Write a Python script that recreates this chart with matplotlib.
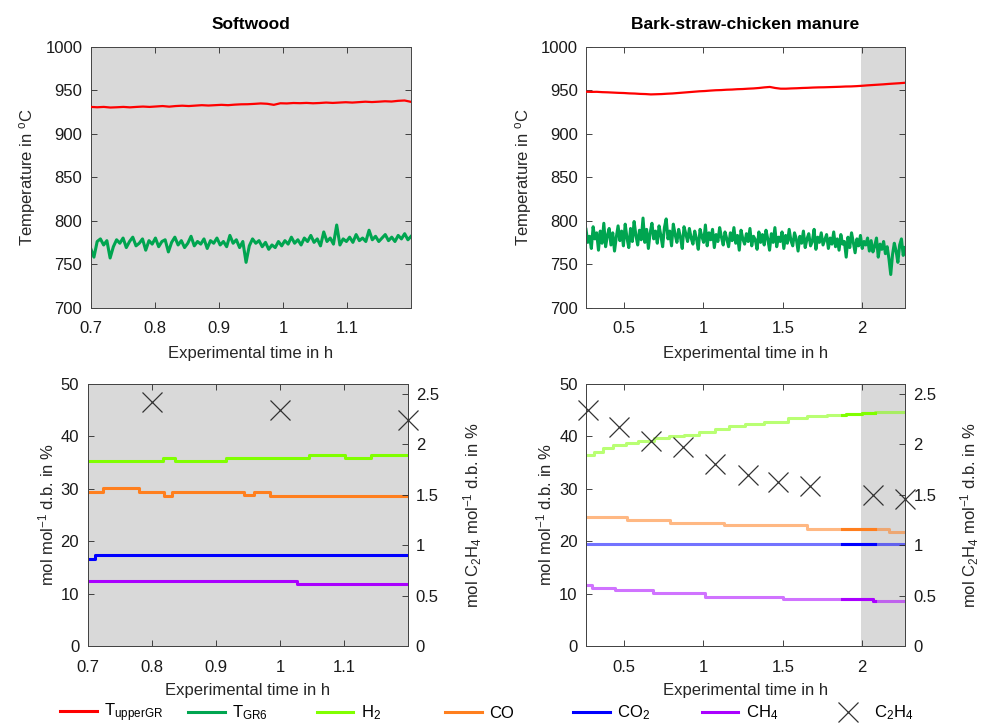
import numpy as np
import matplotlib
matplotlib.use("Agg")
import matplotlib.pyplot as plt
from matplotlib.lines import Line2D

plt.rcParams['font.family'] = ['Liberation Sans', 'DejaVu Sans']
plt.rcParams['mathtext.fontset'] = 'custom'
plt.rcParams['mathtext.rm'] = 'Liberation Sans'
plt.rcParams['mathtext.it'] = 'Liberation Sans:italic'
plt.rcParams['mathtext.bf'] = 'Liberation Sans:bold'
plt.rcParams['mathtext.default'] = 'regular'

# ---------------- data ----------------
titles = ["Softwood", "Bark-straw-chicken manure"]

# Softwood temperatures (time range 0.70 - 1.20 h)
sw_t_range = (0.70, 1.20)
sw_T_upper = [931, 930.6, 931, 930.3, 930.6, 931, 930.5, 931, 931.4, 931, 931.5, 932, 931.3, 932, 932.4,
              932, 932.5, 933, 932.6, 933, 933.4, 933, 933.6, 934, 934.1, 934.5, 935, 934.6, 933.4, 935.2,
              935, 935.5, 935.3, 935.6, 935.2, 935.5, 936, 935.6, 936, 936.4, 936, 936.5, 937, 936.6,
              937, 937.5, 937.2, 938, 938.4, 936.8]
sw_T_GR6 = [768, 758, 776, 779, 772, 777, 757, 770, 778, 774, 780, 769, 776, 781, 771, 774, 779, 766, 777, 773,
            780, 770, 776, 778, 764, 775, 781, 772, 777, 769, 774, 782, 771, 776, 773, 779, 768, 777, 774, 780,
            772, 776, 770, 783, 774, 778, 769, 776, 752, 771, 779, 774, 777, 770, 775, 767, 772, 769, 776, 771,
            777, 773, 781, 774, 778, 772, 780, 776, 783, 775, 779, 771, 787, 776, 780, 773, 795, 772, 779, 776,
            781, 775, 784, 777, 780, 776, 789, 778, 782, 776, 780, 784, 777, 781, 776, 783, 779, 785, 778, 782]

# Bark-straw-chicken manure temperatures (time range 0.26 - 2.27 h)
bs_t_range = (0.26, 2.27)
bs_T_upper = [948.5, 948.3, 948.4, 948.0, 947.8, 947.5, 947.2, 947.0, 946.6, 946.4, 946.0, 945.8, 945.4,
              945.6, 945.8, 946.2, 946.5, 947.0, 947.5, 948.0, 948.5, 949.0, 949.3, 949.8, 950.2, 950.4,
              950.8, 951.0, 951.4, 951.6, 952.0, 952.3, 952.8, 953.5, 954.0, 952.8, 952.0, 952.0, 952.3,
              952.5, 952.8, 953.0, 953.3, 953.5, 953.6, 953.8, 954.0, 954.2, 954.5, 954.6, 954.9, 955.3,
              955.8, 956.2, 956.6, 957.0, 957.5, 957.9, 958.3, 958.8]
bs_T_GR6 = [790, 775, 782, 768, 793, 779, 786, 766, 788, 774, 797, 770, 783, 791, 772, 786, 765, 781, 794, 777,
            788, 771, 796, 780, 769, 791, 776, 799, 783, 772, 789, 778, 803, 775, 790, 768, 786, 797, 779, 788,
            774, 794, 783, 770, 792, 802, 779, 788, 771, 796, 784, 775, 790, 781, 768, 793, 785, 776, 791, 780,
            773, 788, 779, 767, 790, 782, 775, 795, 771, 786, 778, 790, 769, 784, 776, 792, 781, 772, 787, 779,
            770, 786, 777, 792, 774, 783, 766, 789, 779, 773, 785, 776, 791, 771, 782, 778, 767, 787, 775, 784,
            772, 789, 779, 766, 785, 775, 792, 770, 781, 776, 787, 768, 783, 774, 790, 777, 771, 786, 779, 765,
            782, 774, 788, 769, 779, 785, 771, 776, 790, 767, 781, 775, 786, 772, 778, 784, 768, 780, 773, 787,
            770, 779, 766, 784, 773, 776, 758, 781, 769, 786, 775, 763, 779, 771, 783, 768, 776, 772, 780, 765,
            777, 764, 771, 780, 758, 773, 767, 776, 762, 770, 756, 738, 761, 774, 765, 752, 772, 779, 760, 769]

# Softwood gas composition (step changes: time, value)
sw_H2_t = [0.70, 0.818, 0.836, 0.916, 1.045, 1.101, 1.142, 1.20]
sw_H2_v = [35.3, 35.9, 35.3, 35.8, 36.4, 35.8, 36.4, 36.4]
sw_CO_t = [0.70, 0.724, 0.781, 0.819, 0.832, 0.944, 0.959, 0.985, 1.20]
sw_CO_v = [29.3, 30.1, 29.3, 28.7, 29.3, 28.8, 29.3, 28.7, 28.7]
sw_CO2_t = [0.70, 0.712, 1.20]
sw_CO2_v = [16.6, 17.3, 17.3]
sw_CH4_t = [0.70, 1.027, 1.20]
sw_CH4_v = [12.4, 11.8, 11.8]
sw_C2H4_t = [0.8, 1.0, 1.2]
sw_C2H4_v = [2.42, 2.34, 2.24]

# Bark-straw-chicken manure gas composition
bs_H2_t = [0.26, 0.31, 0.37, 0.43, 0.51, 0.59, 0.69, 0.78, 0.88, 0.97, 1.07, 1.16, 1.26, 1.38, 1.53,
           1.65, 1.78, 1.90, 2.00, 2.08, 2.27]
bs_H2_v = [36.5, 37.1, 37.7, 38.3, 38.8, 39.2, 39.6, 40.0, 40.3, 40.9, 41.5, 42.0, 42.4, 42.8, 43.5,
           43.8, 44.1, 44.3, 44.5, 44.7, 44.7]
bs_CO_t = [0.26, 0.52, 0.79, 1.13, 1.65, 2.17, 2.27]
bs_CO_v = [24.7, 24.0, 23.5, 23.0, 22.4, 21.8, 21.8]
bs_CO2_t = [0.26, 2.27]
bs_CO2_v = [19.5, 19.5]
bs_CH4_t = [0.26, 0.30, 0.44, 0.68, 1.01, 1.50, 2.07, 2.27]
bs_CH4_v = [11.6, 11.1, 10.6, 10.1, 9.4, 8.9, 8.6, 8.6]
bs_C2H4_t = [0.27, 0.47, 0.67, 0.87, 1.07, 1.28, 1.47, 1.67, 2.07, 2.27]
bs_C2H4_v = [2.34, 2.17, 2.03, 1.97, 1.81, 1.70, 1.63, 1.59, 1.50, 1.46]

bs_shade = (1.99, 2.27)       # grey steady-state window
bs_highlight = (1.87, 2.08)   # full-colour gas window

legend_labels = ['T$_{upperGR}$', 'T$_{GR6}$', 'H$_2$', 'CO', 'CO$_2$', 'CH$_4$', 'C$_2$H$_4$']

# ---------------- styles ----------------
c_red = '#ff0000'
c_green = '#00a550'
c_h2 = '#80ff00'
c_co = '#ff7f1e'
c_co2 = '#0000ff'
c_ch4 = '#aa00ff'
c_x = '#333333'
grey = '#d9d9d9'
axcol = '#262626'
FS = 12

W, H = 983, 727
fig = plt.figure(figsize=(W / 100, H / 100), dpi=100)

def fx(px): return px / W
def fy(py): return 1 - py / H

ax_tl = fig.add_axes([fx(90.7), fy(307.5), fx(410.5) - fx(90.7), fy(47) - fy(307.5)])
ax_tr = fig.add_axes([fx(586), fy(307.5), fx(905) - fx(586), fy(47) - fy(307.5)])
ax_bl = fig.add_axes([fx(87.5), fy(646), fx(407.5) - fx(87.5), fy(384) - fy(646)])
ax_br = fig.add_axes([fx(586), fy(646), fx(905) - fx(586), fy(384) - fy(646)])

def style(ax, right=True):
    ax.tick_params(direction='in', length=4, width=0.6, colors=axcol, labelsize=FS,
                   top=True, right=right, labelcolor='#1a1a1a')
    ax.tick_params(axis='x', pad=10)
    ax.tick_params(axis='y', pad=6)
    for s in ax.spines.values():
        s.set_color('#444444')
        s.set_linewidth(0.7)

# ---- top: temperatures ----
for ax, trange, Tu, Tg, title in [(ax_tl, sw_t_range, sw_T_upper, sw_T_GR6, titles[0]),
                                   (ax_tr, bs_t_range, bs_T_upper, bs_T_GR6, titles[1])]:
    tu = np.linspace(trange[0], trange[1], len(Tu))
    tg = np.linspace(trange[0], trange[1], len(Tg))
    ax.plot(tu, Tu, color=c_red, lw=1.6, zorder=3)
    ax.plot(tg, Tg, color=c_green, lw=2.2, zorder=2)
    ax.set_ylim(700, 1000)
    ax.set_yticks(np.arange(700, 1001, 50))
    ax.set_ylabel('Temperature in $^{o}$C', fontsize=FS, color=axcol, labelpad=5)
    ax.set_xlabel('Experimental time in h', fontsize=FS, color=axcol, labelpad=7)
    ax.set_title(title, fontsize=FS + 0.5, fontweight='bold', pad=13)
    style(ax)

ax_tl.set_facecolor(grey)
ax_tl.set_xlim(0.70, 1.199)
ax_tl.set_xticks([0.7, 0.8, 0.9, 1.0, 1.1])
ax_tl.set_xticklabels(['0.7', '0.8', '0.9', '1', '1.1'])

ax_tr.axvspan(bs_shade[0], bs_shade[1], color=grey, lw=0, zorder=0)
ax_tr.set_xlim(0.26, 2.27)
ax_tr.set_xticks([0.5, 1.0, 1.5, 2.0])
ax_tr.set_xticklabels(['0.5', '1', '1.5', '2'])

# ---- bottom: gas composition ----
def window(t, v, lo, hi):
    t = np.asarray(t, float); v = np.asarray(v, float)
    idx = np.searchsorted(t, lo, side='right') - 1
    tw = [lo] + [x for x in t if lo < x < hi] + [hi]
    vw = [v[max(idx, 0)]] + [v[i] for i, x in enumerate(t) if lo < x < hi]
    vw.append(vw[-1])
    return np.array(tw), np.array(vw)

sw_gas = [(sw_H2_t, sw_H2_v, c_h2), (sw_CO_t, sw_CO_v, c_co),
          (sw_CO2_t, sw_CO2_v, c_co2), (sw_CH4_t, sw_CH4_v, c_ch4)]
bs_gas = [(bs_H2_t, bs_H2_v, c_h2), (bs_CO_t, bs_CO_v, c_co),
          (bs_CO2_t, bs_CO2_v, c_co2), (bs_CH4_t, bs_CH4_v, c_ch4)]

ax_bl.set_facecolor(grey)
for t, v, c in sw_gas:
    ax_bl.plot(t, v, drawstyle='steps-post', color=c, lw=2.2)

ax_br.axvspan(bs_shade[0], bs_shade[1], color=grey, lw=0, zorder=0)
for t, v, c in bs_gas:
    ax_br.plot(t, v, drawstyle='steps-post', color=c, lw=2.2, alpha=0.55)
    tw, vw = window(t, v, *bs_highlight)
    ax_br.plot(tw, vw, drawstyle='steps-post', color=c, lw=2.2)

for ax, t2, v2 in [(ax_bl, sw_C2H4_t, sw_C2H4_v), (ax_br, bs_C2H4_t, bs_C2H4_v)]:
    ax.set_ylim(0, 50)
    ax.set_yticks(np.arange(0, 51, 10))
    ax.set_ylabel('mol mol$^{-1}$ d.b. in %', fontsize=FS, color=axcol, labelpad=3)
    ax.set_xlabel('Experimental time in h', fontsize=FS, color=axcol, labelpad=6)
    style(ax, right=False)
    a2 = ax.twinx()
    a2.plot(t2, v2, ls='none', marker='x', ms=14, mew=0.9, color=c_x, clip_on=False, zorder=5)
    a2.set_ylim(0, 2.6)
    a2.set_yticks([0, 0.5, 1, 1.5, 2, 2.5])
    a2.set_yticklabels(['0', '0.5', '1', '1.5', '2', '2.5'])
    a2.set_ylabel('mol C$_2$H$_4$ mol$^{-1}$ d.b. in %', fontsize=FS, color=axcol, labelpad=16)
    a2.tick_params(direction='in', length=4, width=0.6, colors=axcol, labelsize=FS,
                   labelcolor='#1a1a1a', pad=6)
    for s in a2.spines.values():
        s.set_color('#444444')
        s.set_linewidth(0.7)

ax_bl.set_xlim(0.70, 1.199)
ax_bl.set_xticks([0.7, 0.8, 0.9, 1.0, 1.1])
ax_bl.set_xticklabels(['0.7', '0.8', '0.9', '1', '1.1'])
ax_br.set_xlim(0.26, 2.27)
ax_br.set_xticks([0.5, 1.0, 1.5, 2.0])
ax_br.set_xticklabels(['0.5', '1', '1.5', '2'])

# ---- legend (evenly spaced entries) ----
handles = [Line2D([], [], color=c_red, lw=2.2), Line2D([], [], color=c_green, lw=2.2),
           Line2D([], [], color=c_h2, lw=2.2), Line2D([], [], color=c_co, lw=2.2),
           Line2D([], [], color=c_co2, lw=2.2), Line2D([], [], color=c_ch4, lw=2.2),
           Line2D([], [], ls='none', marker='x', ms=14, mew=0.9, color=c_x)]
slot0, slot = 60, 128.3
for i, (h, lab) in enumerate(zip(handles, legend_labels)):
    fig.legend([h], [lab], loc='center left', bbox_to_anchor=(fx(slot0 + i * slot), fy(713)),
               frameon=False, fontsize=FS, handlelength=2.2, handletextpad=0.45,
               borderpad=0, borderaxespad=0)

fig.savefig('out.png', dpi=100)
